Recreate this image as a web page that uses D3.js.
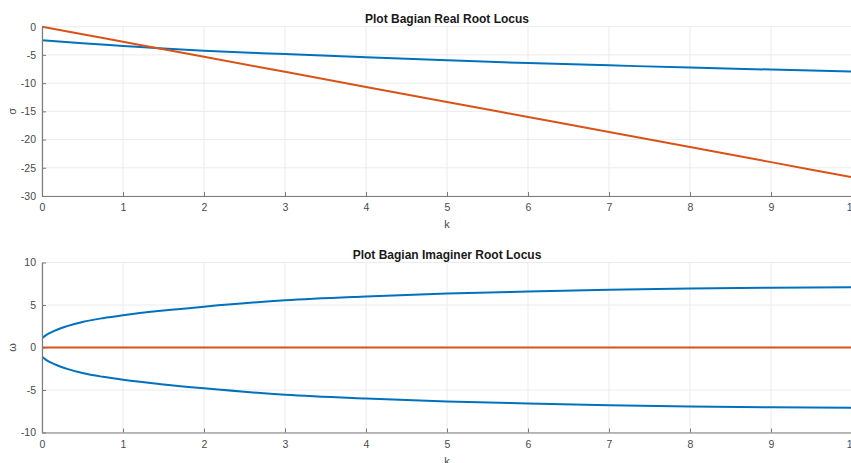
<!DOCTYPE html>
<html>
<head>
<meta charset="utf-8">
<script src="https://cdn.jsdelivr.net/npm/d3@7"></script>
<style>
  body { margin: 0; background: #fff; }
  svg { display: block; }
  text { font-family: "Liberation Sans", Arial, sans-serif; }
</style>
</head>
<body>
<div id="container"></div>
<script>
// values
var kTicks = [0, 1, 2, 3, 4, 5, 6, 7, 8, 9, 10];
var sigmaTicks = [0, -5, -10, -15, -20, -25, -30];
var omegaTicks = [10, 5, 0, -5, -10];

// real part: complex pair (blue) and real root (orange)
var kReal = [0, 0.5, 1, 1.5, 2, 3, 4, 5, 6, 7, 8, 9, 10];
var sigmaPair = [-2.4, -2.95, -3.4, -3.85, -4.25, -4.85, -5.42, -5.95, -6.45, -6.85, -7.25, -7.6, -7.95];
var sigmaReal = [0, -1.33, -2.67, -4, -5.33, -8, -10.67, -13.33, -16, -18.67, -21.33, -24, -26.67];

// imaginary part
var kImag = [0, 0.05, 0.1, 0.2, 0.3, 0.5, 0.75, 1, 1.5, 2, 3, 4, 5, 6, 7, 8, 9, 10];
var omegaUpper = [1.1, 1.45, 1.72, 2.15, 2.48, 3.0, 3.45, 3.8, 4.35, 4.8, 5.55, 6.0, 6.35, 6.58, 6.78, 6.93, 7.03, 7.1];
var omegaLower = [-1.1, -1.45, -1.72, -2.15, -2.48, -3.0, -3.45, -3.8, -4.35, -4.8, -5.55, -6.0, -6.35, -6.58, -6.78, -6.93, -7.03, -7.1];
var omegaReal = [0, 0, 0, 0, 0, 0, 0, 0, 0, 0, 0, 0, 0, 0, 0, 0, 0, 0];

var BLUE = "#0072BD", ORANGE = "#D95319";
var W = 851, H = 463;

var svg = d3.select("#container").append("svg")
    .attr("width", W)
    .attr("height", H);

var x = d3.scaleLinear().domain([0, 10]).range([42, 852]);
var fmt = d => String(d); // plain hyphen minus like the reference

function drawPanel(cfg) {
    var y = d3.scaleLinear().domain(cfg.domain).range(cfg.range);
    var g = svg.append("g");

    // grid
    g.selectAll(".gx").data(kTicks).enter().append("line")
        .attr("x1", d => x(d)).attr("x2", d => x(d))
        .attr("y1", y.range()[0]).attr("y2", y.range()[1])
        .style("stroke", "#ebebeb").style("stroke-width", 1);
    g.selectAll(".gy").data(cfg.ticks).enter().append("line")
        .attr("x1", x(0)).attr("x2", x(10))
        .attr("y1", d => y(d)).attr("y2", d => y(d))
        .style("stroke", "#ebebeb").style("stroke-width", 1);

    // lines
    var clipId = "clip" + cfg.id;
    g.append("clipPath").attr("id", clipId).append("rect")
        .attr("x", x(0)).attr("y", y.range()[1] - 2)
        .attr("width", x(10) - x(0) + 2).attr("height", y.range()[0] - y.range()[1] + 4);
    cfg.series.forEach(function (s) {
        var line = d3.line()
            .x((d, i) => x(s.k[i]))
            .y(d => y(d))
            .curve(d3.curveMonotoneX);
        g.append("path")
            .attr("d", line(s.v))
            .attr("clip-path", "url(#" + clipId + ")")
            .style("fill", "none")
            .style("stroke", s.color)
            .style("stroke-width", 2);
    });

    // axes
    var xAxis = d3.axisBottom(x).tickValues(kTicks).tickFormat(fmt).tickSizeInner(-4).tickSizeOuter(0).tickPadding(8);
    var ax = g.append("g").attr("transform", "translate(0," + y.range()[0] + ")").call(xAxis);
    var yAxis = d3.axisLeft(y).tickValues(cfg.ticks).tickFormat(fmt).tickSizeInner(-4).tickSizeOuter(0).tickPadding(6);
    var ay = g.append("g").attr("transform", "translate(" + x(0) + ",0)").call(yAxis);
    [ax, ay].forEach(function (a) {
        a.select(".domain").style("stroke", "#7a7a7a").style("stroke-width", 1.2);
        a.selectAll(".tick line").style("stroke", "#7a7a7a");
        a.selectAll("text").style("font-size", "10.5px").style("fill", "#4a4a4a")
            .style("font-family", "'Liberation Sans', Arial, sans-serif");
    });

    // title and labels
    g.append("text")
        .attr("x", (x(0) + x(10)) / 2).attr("y", cfg.titleY)
        .attr("text-anchor", "middle")
        .style("font-size", "12px").style("font-weight", "bold").style("fill", "#1a1a1a")
        .text(cfg.title);
    g.append("text")
        .attr("x", (x(0) + x(10)) / 2).attr("y", y.range()[0] + 32)
        .attr("text-anchor", "middle")
        .style("font-size", "11px").style("fill", "#4a4a4a")
        .text("k");
    g.append("text")
        .attr("transform", "translate(16," + ((y.range()[0] + y.range()[1]) / 2) + ") rotate(-90)")
        .attr("text-anchor", "middle")
        .style("font-size", "11px").style("fill", "#4a4a4a")
        .text(cfg.ylabel);
}

drawPanel({
    id: 1,
    domain: [-30, 0], range: [196, 26.7], ticks: sigmaTicks,
    title: "Plot Bagian Real Root Locus", titleY: 22.5,
    ylabel: "\u03c3",
    series: [
        { k: kReal, v: sigmaPair, color: BLUE },
        { k: kReal, v: sigmaReal, color: ORANGE }
    ]
});

drawPanel({
    id: 2,
    domain: [-10, 10], range: [432.5, 262.5], ticks: omegaTicks,
    title: "Plot Bagian Imaginer Root Locus", titleY: 259,
    ylabel: "\u03c9",
    series: [
        { k: kImag, v: omegaUpper, color: BLUE },
        { k: kImag, v: omegaLower, color: BLUE },
        { k: kImag, v: omegaReal, color: ORANGE }
    ]
});
</script>
</body>
</html>
